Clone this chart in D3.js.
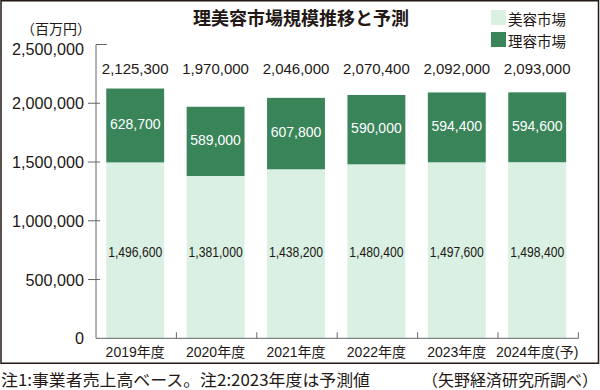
<!DOCTYPE html>
<html>
<head>
<meta charset="utf-8">
<script src="https://cdn.jsdelivr.net/npm/d3@7"></script>
<style>
  html, body { margin: 0; padding: 0; background: #fff; }
  svg { display: block; }
  text { fill: #231815; }
</style>
</head>
<body>
<svg id="chart" width="600" height="390"></svg>
<script>
// ---- data ----
const categories = ["2019年度", "2020年度", "2021年度", "2022年度", "2023年度", "2024年度(予)"];
const beautyValues = [1496600, 1381000, 1438200, 1480400, 1497600, 1498400];
const barberValues = [628700, 589000, 607800, 590000, 594400, 594600];
const totalValues = [2125300, 1970000, 2046000, 2070400, 2092000, 2093000];
const yTickValues = [0, 500000, 1000000, 1500000, 2000000, 2500000];
const seriesNames = ["美容市場", "理容市場"];
const titleText = "理美容市場規模推移と予測";
const unitText = "（百万円）";
const noteText = "注1:事業者売上高ベース。注2:2023年度は予測値";
const sourceText = "（矢野経済研究所調べ）";

const colorLight = "#d9f0e3";
const colorDark = "#3a845a";
const ink = "#231815";
const axisColor = "#666";
const numFont = "'Liberation Sans', Arial, 'Noto Sans CJK JP', sans-serif";
const jpFont = "'Noto Sans CJK JP', 'Noto Sans', sans-serif";

const svg = d3.select("#chart");
const fmt = d3.format(",");

const x = d3.scaleBand().domain(categories).range([96, 578.4]).paddingInner(0).paddingOuter(0);
const barW = x.step() * 0.72;
const barX = d => x(d) + (x.step() - barW) / 2 - 1;
const y = d3.scaleLinear().domain([0, 2500000]).range([338.3, 44.5]);

// frame
svg.append("rect").attr("x", 1).attr("y", 0.75).attr("width", 597.5).attr("height", 362.5)
  .attr("fill", "none").attr("stroke", ink).attr("stroke-width", 1.5);

const rows = categories.map((c, i) => ({ c, b: beautyValues[i], r: barberValues[i], t: totalValues[i] }));

// bars
svg.append("g").selectAll("rect").data(rows).join("rect")
  .attr("x", d => barX(d.c)).attr("width", barW)
  .attr("y", d => y(d.b)).attr("height", d => y(0) - y(d.b))
  .attr("fill", colorLight);
svg.append("g").selectAll("rect").data(rows).join("rect")
  .attr("x", d => barX(d.c)).attr("width", barW)
  .attr("y", d => y(d.b + d.r)).attr("height", d => y(d.b) - y(d.b + d.r))
  .attr("fill", colorDark);

// axes
const axisG = svg.append("g").attr("stroke", axisColor).attr("stroke-width", 1).attr("fill", "none");
axisG.append("path").attr("d", `M${x.range()[0]},${y(2500000)}V${y(0)}H${x.range()[1]}`);
yTickValues.forEach(v => {
  if (v === 0) return;
  if (v === 2500000) {
    axisG.append("line").attr("x1", 96).attr("x2", 107).attr("y1", y(v)).attr("y2", y(v));
  } else {
    axisG.append("line").attr("x1", 88).attr("x2", 100).attr("y1", y(v)).attr("y2", y(v));
  }
});
categories.forEach(c => {
  const bx = x(c) + x.step();
  axisG.append("line").attr("x1", bx).attr("x2", bx).attr("y1", y(0)).attr("y2", y(0) - 6);
});

// y tick labels
svg.append("g").selectAll("text").data(yTickValues).join("text")
  .attr("x", 84).attr("y", d => y(d) + (d === 2500000 ? 4 : 0))
  .attr("text-anchor", "end").attr("dominant-baseline", "central")
  .style("font-family", numFont).style("font-size", "16.2px")
  .text(d => fmt(d));

// x labels
svg.append("g").selectAll("text").data(categories).join("text")
  .attr("x", d => x(d) + x.step() / 2 - 1).attr("y", 352)
  .attr("text-anchor", "middle").attr("dominant-baseline", "central")
  .style("font-family", numFont).style("font-size", "14px")
  .text(d => d);

// total labels
svg.append("g").selectAll("text").data(rows).join("text")
  .attr("x", d => barX(d.c) + barW / 2).attr("y", y(2300000))
  .attr("text-anchor", "middle").attr("dominant-baseline", "central")
  .style("font-family", numFont).style("font-size", "15px")
  .text(d => fmt(d.t));

// dark segment labels
svg.append("g").selectAll("text").data(rows).join("text")
  .attr("x", d => barX(d.c) + barW / 2).attr("y", d => (y(d.b) + y(d.b + d.r)) / 2 - 1.5)
  .attr("text-anchor", "middle").attr("dominant-baseline", "central")
  .style("font-family", numFont).style("font-size", "14px").style("fill", "#fff")
  .text(d => fmt(d.r));

// light segment labels (condensed)
svg.append("g").selectAll("text").data(rows).join("text")
  .attr("transform", d => `translate(${barX(d.c) + barW / 2},${y(730000)}) scale(0.84,1)`)
  .attr("text-anchor", "middle").attr("dominant-baseline", "central")
  .style("font-family", numFont).style("font-size", "14.5px")
  .text(d => fmt(d.b));

// title
svg.append("text").attr("x", 301).attr("y", 17)
  .attr("text-anchor", "middle").attr("dominant-baseline", "central")
  .style("font-family", jpFont).style("font-size", "18px").style("font-weight", "bold")
  .text(titleText);

// unit
svg.append("text").attr("x", 91).attr("y", 28)
  .attr("text-anchor", "end").attr("dominant-baseline", "central")
  .style("font-family", jpFont).style("font-size", "14px")
  .text(unitText);

// legend
const legendColors = [colorLight, colorDark];
const lg = svg.append("g");
seriesNames.forEach((n, i) => {
  lg.append("rect").attr("x", 491).attr("y", 10 + i * 22).attr("width", 15).attr("height", 15).attr("fill", legendColors[i]);
  lg.append("text").attr("x", 508).attr("y", 18 + i * 22)
    .attr("dominant-baseline", "central")
    .style("font-family", jpFont).style("font-size", "14.5px")
    .text(n);
});

// notes
svg.append("text").attr("x", 1).attr("y", 378.5)
  .attr("dominant-baseline", "central")
  .attr("textLength", 369).attr("lengthAdjust", "spacingAndGlyphs")
  .style("font-family", jpFont).style("font-size", "16px")
  .text(noteText);
svg.append("text").attr("x", 598).attr("y", 378.5)
  .attr("text-anchor", "end").attr("dominant-baseline", "central")
  .style("font-family", jpFont).style("font-size", "16px")
  .text(sourceText);
</script>
</body>
</html>
